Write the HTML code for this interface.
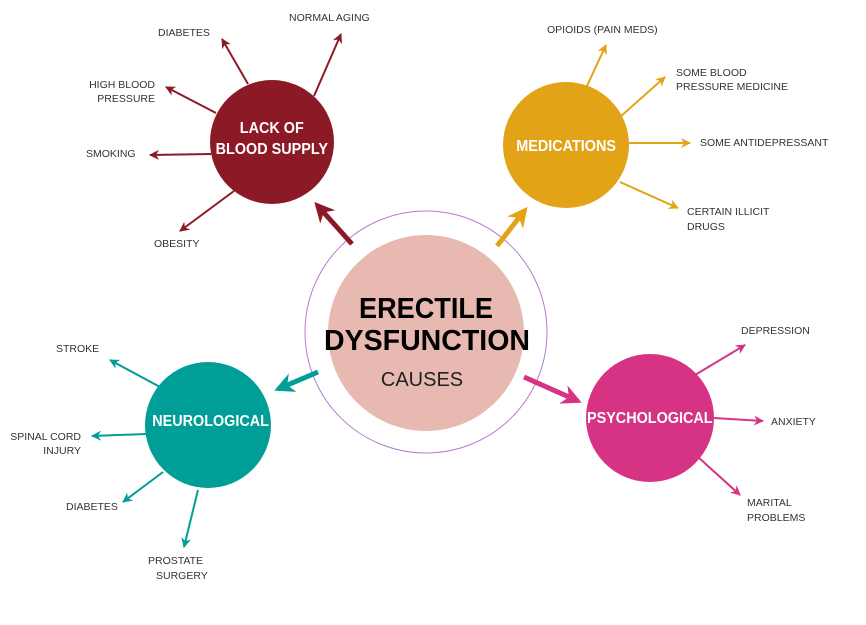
<!DOCTYPE html>
<html><head><style>body{margin:0;background:#fff}svg{display:block}text{font-family:"Liberation Sans",sans-serif}</style></head><body>
<svg width="866" height="625" viewBox="0 0 866 625" xmlns="http://www.w3.org/2000/svg">
<defs>
<marker id="mr" viewBox="0 0 10 10" refX="9" refY="5" markerWidth="5" markerHeight="5" orient="auto" markerUnits="strokeWidth"><path d="M0,0L10,5L0,10L3,5z" fill="#8b1a26"/></marker>
<marker id="mg" viewBox="0 0 10 10" refX="9" refY="5" markerWidth="5" markerHeight="5" orient="auto" markerUnits="strokeWidth"><path d="M0,0L10,5L0,10L3,5z" fill="#e3a317"/></marker>
<marker id="mt" viewBox="0 0 10 10" refX="9" refY="5" markerWidth="5" markerHeight="5" orient="auto" markerUnits="strokeWidth"><path d="M0,0L10,5L0,10L3,5z" fill="#009e96"/></marker>
<marker id="mm" viewBox="0 0 10 10" refX="9" refY="5" markerWidth="5" markerHeight="5" orient="auto" markerUnits="strokeWidth"><path d="M0,0L10,5L0,10L3,5z" fill="#d63384"/></marker>
<marker id="Mr" viewBox="0 0 10 10" refX="8" refY="5" markerWidth="4" markerHeight="4" orient="auto" markerUnits="strokeWidth"><path d="M0,0L10,5L0,10L3,5z" fill="#8b1a26"/></marker>
<marker id="Mg" viewBox="0 0 10 10" refX="8" refY="5" markerWidth="4" markerHeight="4" orient="auto" markerUnits="strokeWidth"><path d="M0,0L10,5L0,10L3,5z" fill="#e3a317"/></marker>
<marker id="Mt" viewBox="0 0 10 10" refX="8" refY="5" markerWidth="4" markerHeight="4" orient="auto" markerUnits="strokeWidth"><path d="M0,0L10,5L0,10L3,5z" fill="#009e96"/></marker>
<marker id="Mm" viewBox="0 0 10 10" refX="8" refY="5" markerWidth="4" markerHeight="4" orient="auto" markerUnits="strokeWidth"><path d="M0,0L10,5L0,10L3,5z" fill="#d63384"/></marker>
</defs>
<circle cx="426" cy="332" r="121" fill="none" stroke="#b57ad0" stroke-width="1"/>
<circle cx="426" cy="333" r="98" fill="#e8b9b1"/>
<text x="426" y="318" text-anchor="middle" font-size="29" font-weight="bold" fill="#000" textLength="134" lengthAdjust="spacingAndGlyphs">ERECTILE</text>
<text x="427" y="350" text-anchor="middle" font-size="29" font-weight="bold" fill="#000" textLength="206" lengthAdjust="spacingAndGlyphs">DYSFUNCTION</text>
<text x="422" y="386" text-anchor="middle" font-size="20" fill="#222">CAUSES</text>

<g stroke-width="5" fill="none">
<line x1="352" y1="244" x2="317" y2="205" stroke="#8b1a26" marker-end="url(#Mr)"/>
<line x1="497" y1="246" x2="525" y2="210" stroke="#e3a317" marker-end="url(#Mg)"/>
<line x1="318" y1="372" x2="278" y2="389" stroke="#009e96" marker-end="url(#Mt)"/>
<line x1="524" y1="377" x2="578" y2="401" stroke="#d63384" marker-end="url(#Mm)"/>
</g>
<g stroke-width="2" fill="none">
<g stroke="#8b1a26" marker-end="url(#mr)">
<line x1="248" y1="84" x2="222" y2="39"/><line x1="314" y1="96" x2="341" y2="34"/>
<line x1="216" y1="113" x2="166" y2="87"/><line x1="211" y1="154" x2="150" y2="155"/>
<line x1="234" y1="191" x2="180" y2="231"/></g>
<g stroke="#e3a317" marker-end="url(#mg)">
<line x1="586" y1="88" x2="606" y2="45"/><line x1="620" y1="117" x2="665" y2="77"/>
<line x1="629" y1="143" x2="690" y2="143"/><line x1="620" y1="182" x2="678" y2="208"/></g>
<g stroke="#d63384" marker-end="url(#mm)">
<line x1="695" y1="375" x2="745" y2="345"/><line x1="714" y1="418" x2="763" y2="421"/>
<line x1="698" y1="457" x2="740" y2="495"/></g>
<g stroke="#009e96" marker-end="url(#mt)">
<line x1="160" y1="387" x2="110" y2="360"/><line x1="146" y1="434" x2="92" y2="436"/>
<line x1="163" y1="472" x2="123" y2="502"/><line x1="198" y1="490" x2="184" y2="547"/></g>
</g>

<circle cx="272" cy="142" r="62" fill="#8b1a26"/>
<circle cx="566" cy="145" r="63" fill="#e3a317"/>
<circle cx="208" cy="425" r="63" fill="#009e96"/>
<circle cx="650" cy="418" r="64" fill="#d63384"/>
<g fill="#fff" font-size="16" font-weight="bold" text-anchor="middle" transform="scale(0.9,1)">
<text x="302" y="133">LACK OF</text><text x="302" y="154">BLOOD SUPPLY</text>
<text x="629" y="151">MEDICATIONS</text>
<text x="234" y="426">NEUROLOGICAL</text>
<text x="722" y="423">PSYCHOLOGICAL</text>
</g>
<g font-size="10.5" fill="#333">
<text x="158" y="36">DIABETES</text>
<text x="289" y="21">NORMAL AGING</text>
<text x="155" y="88" text-anchor="end">HIGH BLOOD</text><text x="155" y="102" text-anchor="end">PRESSURE</text>
<text x="86" y="157">SMOKING</text>
<text x="154" y="247">OBESITY</text>
<text x="547" y="33">OPIOIDS (PAIN MEDS)</text>
<text x="676" y="76">SOME BLOOD</text><text x="676" y="90">PRESSURE MEDICINE</text>
<text x="700" y="146">SOME ANTIDEPRESSANT</text>
<text x="687" y="215">CERTAIN ILLICIT</text><text x="687" y="230">DRUGS</text>
<text x="741" y="334">DEPRESSION</text>
<text x="771" y="425">ANXIETY</text>
<text x="747" y="506">MARITAL</text><text x="747" y="521">PROBLEMS</text>
<text x="56" y="352">STROKE</text>
<text x="81" y="440" text-anchor="end">SPINAL CORD</text><text x="81" y="454" text-anchor="end">INJURY</text>
<text x="66" y="510">DIABETES</text>
<text x="148" y="564">PROSTATE</text><text x="156" y="579">SURGERY</text>
</g>
</svg>
</body></html>
